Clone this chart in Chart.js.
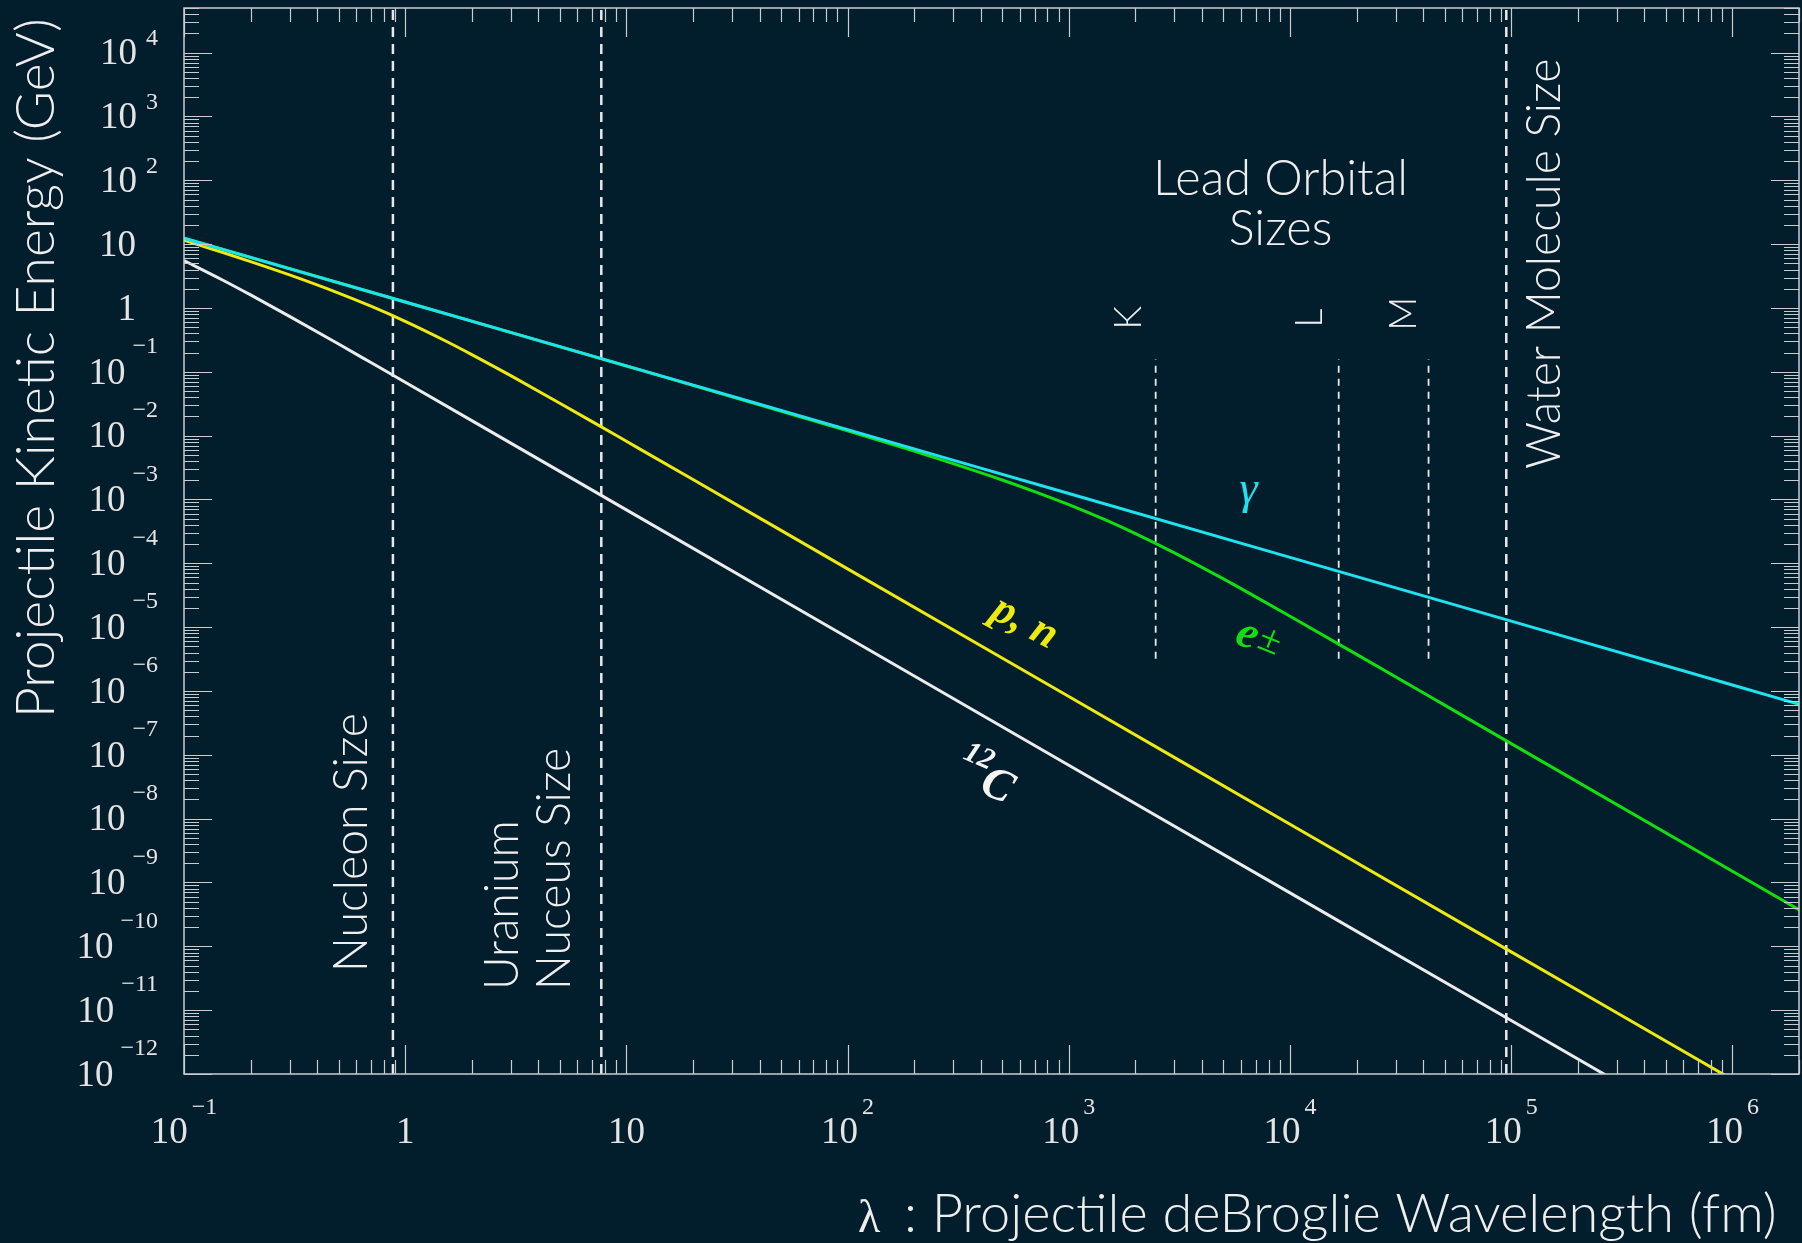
<!DOCTYPE html>
<html>
<head>
<meta charset="utf-8">
<title>Projectile Kinetic Energy vs deBroglie Wavelength</title>
<script src="https://cdn.jsdelivr.net/npm/chart.js@4.4.1/dist/chart.umd.min.js"></script>
<style>
    html, body { margin: 0; padding: 0; background: #021d2b; }
    #wrap { width: 1802px; height: 1243px; }
</style>
</head>
<body>
<div id="wrap"><canvas id="chart" width="1802" height="1243"></canvas></div>
<script>
// wavelength samples (fm) and kinetic energy (GeV)
const gammaFm = [0.1, 1, 10, 100, 1e3, 1e4, 1e5, 1e6, 5e6];
const gammaGeV = [12.4, 1.24, 0.124, 0.0124, 1.24e-3, 1.24e-4, 1.24e-5, 1.24e-6, 2.48e-7];

const electronFm = [0.1, 1, 10, 100, 200, 300, 500, 700, 1e3, 1.5e3, 2e3, 3e3, 5e3, 7e3, 1e4, 2e4, 5e4, 1e5, 1e6, 5e6];
const electronGeV = [12.4, 1.239, 0.1235, 0.0119, 5.71e-3, 3.65e-3, 2.02e-3, 1.33e-3, 8.30e-4, 4.61e-4, 2.92e-4, 1.46e-4, 5.70e-5, 2.98e-5, 1.48e-5, 3.75e-6, 6.01e-7, 1.50e-7, 1.50e-9, 6.02e-11];

const nucleonFm = [0.1, 0.15, 0.2, 0.3, 0.5, 0.7, 1, 1.5, 2, 3, 5, 7, 10, 20, 50, 100, 1e3, 1e4, 1e5, 1e6, 5e6];
const nucleonGeV = [11.5, 7.38, 5.33, 3.30, 1.713, 1.066, 0.617, 0.312, 0.186, 0.087, 0.0322, 0.0166, 8.16e-3, 2.05e-3, 3.28e-4, 8.19e-5, 8.19e-7, 8.19e-9, 8.19e-11, 8.19e-13, 3.28e-14];

const carbonFm = [0.1, 0.15, 0.2, 0.3, 0.5, 0.7, 1, 2, 10, 100, 1e3, 1e4, 1e5, 1e6];
const carbonGeV = [5.52, 2.72, 1.60, 0.740, 0.272, 0.1395, 0.0686, 0.0172, 6.88e-4, 6.88e-6, 6.88e-8, 6.88e-10, 6.88e-12, 6.88e-14];

// size markers (fm)
const markerNames = ['Nucleon Size', 'Uranium Nucleus Size', 'Water Molecule Size'];
const markerFm = [0.88, 7.7, 9.5e4];
const orbitalNames = ['K', 'L', 'M'];
const orbitalFm = [2.47e3, 1.66e4, 4.23e4];
const orbitalSpanGeV = [3.2e-6, 0.157];

// axis ranges and tick labels (powers of ten)
const xRange = [0.1, 2e6];
const yRange = [1e-12, 5e4];
const xTickPowers = [-1, 0, 1, 2, 3, 4, 5, 6];
const yTickPowers = [-12, -11, -10, -9, -8, -7, -6, -5, -4, -3, -2, -1, 0, 1, 2, 3, 4];

const bgColor = '#021d2b';
const inkColor = '#eeeeee';
const axisColor = '#c9cdd0';
const sansFamily = 'Lato, "Open Sans", sans-serif';
const serifFamily = '"Liberation Serif", "DejaVu Serif", serif';

function toPoints(xs, ys) {
    return xs.map((v, i) => ({ x: v, y: ys[i] }));
}

function curve(label, xs, ys, color) {
    return {
        label: label,
        data: toPoints(xs, ys),
        borderColor: color,
        borderWidth: 3,
        pointRadius: 0,
        showLine: true,
        cubicInterpolationMode: 'monotone'
    };
}

const datasets = [
    curve('gamma', gammaFm, gammaGeV, '#1fe2ee'),
    curve('e+-', electronFm, electronGeV, '#12de12'),
    curve('p,n', nucleonFm, nucleonGeV, '#eeea10'),
    curve('12C', carbonFm, carbonGeV, '#ececec')
];
markerFm.forEach((v, i) => {
    datasets.push({
        label: markerNames[i],
        data: [{ x: v, y: yRange[0] }, { x: v, y: yRange[1] }],
        borderColor: '#e8e8e8',
        borderWidth: 2.5,
        borderDash: [10, 7],
        pointRadius: 0,
        showLine: true
    });
});
orbitalFm.forEach((v, i) => {
    datasets.push({
        label: orbitalNames[i],
        data: [{ x: v, y: orbitalSpanGeV[0] }, { x: v, y: orbitalSpanGeV[1] }],
        borderColor: '#e8e8e8',
        borderWidth: 1.8,
        borderDash: [7, 6],
        pointRadius: 0,
        showLine: true
    });
});

function fitSize(ctx, text, width, font, guess) {
    ctx.font = font(guess);
    return guess * width / ctx.measureText(text).width;
}

function powerLabel(p) {
    if (p === 0) return { base: '1', exp: '' };
    if (p === 1) return { base: '10', exp: '' };
    return { base: '10', exp: p < 0 ? '\u2212' + (-p) : String(p) };
}

function rotatedText(ctx, text, x, y, angle, align, baseline) {
    ctx.save();
    ctx.translate(x, y);
    ctx.rotate(angle);
    ctx.textAlign = align;
    ctx.textBaseline = baseline;
    ctx.fillText(text, 0, 0);
    ctx.restore();
}

const backgroundPlugin = {
    id: 'background',
    beforeDraw(chart) {
        const ctx = chart.ctx;
        ctx.save();
        ctx.fillStyle = bgColor;
        ctx.fillRect(0, 0, chart.width, chart.height);
        ctx.restore();
    }
};

const framePlugin = {
    id: 'frame',
    afterDraw(chart) {
        const { ctx, chartArea: a, scales: { x, y } } = chart;
        ctx.save();

        // frame and inward ticks on all four sides
        ctx.strokeStyle = axisColor;
        ctx.lineWidth = 1.5;
        ctx.strokeRect(a.left, a.top, a.right - a.left, a.bottom - a.top);
        ctx.lineWidth = 1.2;
        ctx.beginPath();
        for (let e = -2; e <= 7; e++) {
            for (let k = 1; k <= 9; k++) {
                const v = k * Math.pow(10, e);
                if (v < xRange[0] || v > xRange[1]) continue;
                const px = Math.round(x.getPixelForValue(v)) + 0.5;
                const len = k === 1 ? 29 : 14;
                ctx.moveTo(px, a.bottom); ctx.lineTo(px, a.bottom - len);
                ctx.moveTo(px, a.top); ctx.lineTo(px, a.top + len);
            }
        }
        for (let e = -13; e <= 5; e++) {
            for (let k = 1; k <= 9; k++) {
                const v = k * Math.pow(10, e);
                if (v < yRange[0] || v > yRange[1]) continue;
                const py = Math.round(y.getPixelForValue(v)) + 0.5;
                const len = k === 1 ? 28 : 15;
                ctx.moveTo(a.left, py); ctx.lineTo(a.left + len, py);
                ctx.moveTo(a.right, py); ctx.lineTo(a.right - len, py);
            }
        }
        ctx.stroke();

        // tick labels
        const tickFont = '37px ' + serifFamily;
        const expFont = '24px ' + serifFamily;
        ctx.fillStyle = '#e4e4e4';
        ctx.textBaseline = 'middle';
        yTickPowers.forEach(p => {
            const py = y.getPixelForValue(Math.pow(10, p));
            const lab = powerLabel(p);
            ctx.textAlign = 'right';
            if (!lab.exp) {
                ctx.font = tickFont;
                ctx.fillText(lab.base, a.left - 48, py + 2);
                return;
            }
            ctx.font = expFont;
            const ew = ctx.measureText(lab.exp).width;
            ctx.fillText(lab.exp, a.left - 26, py - (p > 0 ? 14 : 25));
            ctx.font = tickFont;
            ctx.fillText(lab.base, a.left - 26 - ew - (p > 0 ? 9 : 7), py + 2);
        });
        xTickPowers.forEach(p => {
            const px = x.getPixelForValue(Math.pow(10, p));
            const lab = powerLabel(p);
            ctx.font = tickFont;
            const bw = ctx.measureText(lab.base).width;
            ctx.font = expFont;
            const ew = lab.exp ? ctx.measureText(lab.exp).width + 4 : 0;
            const start = px - (bw + ew) / 2;
            ctx.textAlign = 'left';
            ctx.font = tickFont;
            ctx.fillText(lab.base, start, a.bottom + 59);
            if (lab.exp) {
                ctx.font = expFont;
                ctx.fillText(lab.exp, start + bw + 4, a.bottom + 34);
            }
        });

        // axis titles
        ctx.fillStyle = inkColor;
        const sans = s => `300 ${s}px ${sansFamily}`;
        const yTitle = 'Projectile Kinetic Energy (GeV)';
        ctx.font = sans(fitSize(ctx, yTitle, 700, sans, 46));
        rotatedText(ctx, yTitle, 54, 718, -Math.PI / 2, 'left', 'alphabetic');

        ctx.font = '46px ' + serifFamily;
        ctx.textAlign = 'left';
        ctx.textBaseline = 'alphabetic';
        ctx.fillText('\u03bb', 858, 1232);
        const xTitle = ': Projectile deBroglie Wavelength (fm)';
        ctx.font = sans(fitSize(ctx, xTitle, 873, sans, 46));
        ctx.fillText(xTitle, 904, 1232);

        // marker annotations, anchored in data units
        const px = v => x.getPixelForValue(v);
        const py = v => y.getPixelForValue(v);
        ctx.font = sans(fitSize(ctx, 'Nucleon Size', 259, sans, 42));
        rotatedText(ctx, markerNames[0], px(0.671), py(3.96e-11), -Math.PI / 2, 'left', 'alphabetic');
        rotatedText(ctx, 'Uranium', px(3.23), py(2.07e-11), -Math.PI / 2, 'left', 'alphabetic');
        rotatedText(ctx, 'Nuceus Size', px(5.55), py(2.07e-11), -Math.PI / 2, 'left', 'alphabetic');
        rotatedText(ctx, markerNames[2], px(1.67e5), py(3.0e-3), -Math.PI / 2, 'left', 'alphabetic');
        ctx.font = sans(fitSize(ctx, 'Lead Orbital', 255, sans, 42));
        ctx.textAlign = 'center';
        ctx.textBaseline = 'alphabetic';
        ctx.fillText('Lead Orbital', px(9060), py(59));
        ctx.fillText('Sizes', px(9060), py(9.7));

        ctx.font = sans(37);
        const orbitalLabelAt = [[2130, 0.70], [1.40e4, 0.69], [3.73e4, 0.81]];
        orbitalNames.forEach((n, i) => {
            rotatedText(ctx, n, px(orbitalLabelAt[i][0]), py(orbitalLabelAt[i][1]), -Math.PI / 2, 'center', 'alphabetic');
        });

        // curve labels
        ctx.fillStyle = '#1fe2ee';
        ctx.font = 'italic 46px ' + serifFamily;
        ctx.textAlign = 'center';
        ctx.fillText('\u03b3', px(6490), py(8.8e-4));

        const tilt = 28 * Math.PI / 180;
        ctx.fillStyle = '#eeea10';
        ctx.font = 'bold italic 44px ' + serifFamily;
        rotatedText(ctx, 'p, n', px(631), py(1.16e-5), tilt, 'center', 'middle');

        ctx.save();
        ctx.translate(px(7210), py(6.3e-6));
        ctx.rotate(tilt * 0.8);
        ctx.fillStyle = '#12de12';
        ctx.textBaseline = 'middle';
        ctx.textAlign = 'right';
        ctx.font = 'bold italic 46px ' + serifFamily;
        ctx.fillText('e', -2, 0);
        ctx.textAlign = 'left';
        ctx.font = '40px ' + serifFamily;
        ctx.fillText('\u00b1', 0, -3);
        ctx.restore();

        ctx.save();
        ctx.translate(px(457), py(3.9e-8));
        ctx.rotate(tilt * 0.85);
        ctx.fillStyle = '#f4f4f4';
        ctx.textBaseline = 'alphabetic';
        ctx.textAlign = 'left';
        ctx.font = 'bold italic 46px ' + serifFamily;
        ctx.fillText('C', -10, 16);
        ctx.textAlign = 'right';
        ctx.font = 'bold italic 30px ' + serifFamily;
        ctx.fillText('12', -8, -8);
        ctx.restore();

        ctx.restore();
    }
};

new Chart(document.getElementById('chart').getContext('2d'), {
    type: 'scatter',
    data: { datasets: datasets },
    options: {
        responsive: false,
        animation: false,
        devicePixelRatio: 1,
        layout: { padding: { left: 184, right: 3, top: 8, bottom: 169 } },
        scales: {
            x: { type: 'logarithmic', min: xRange[0], max: xRange[1], display: false },
            y: { type: 'logarithmic', min: yRange[0], max: yRange[1], display: false }
        },
        plugins: {
            legend: { display: false },
            tooltip: { enabled: false }
        }
    },
    plugins: [backgroundPlugin, framePlugin]
});
</script>
</body>
</html>
